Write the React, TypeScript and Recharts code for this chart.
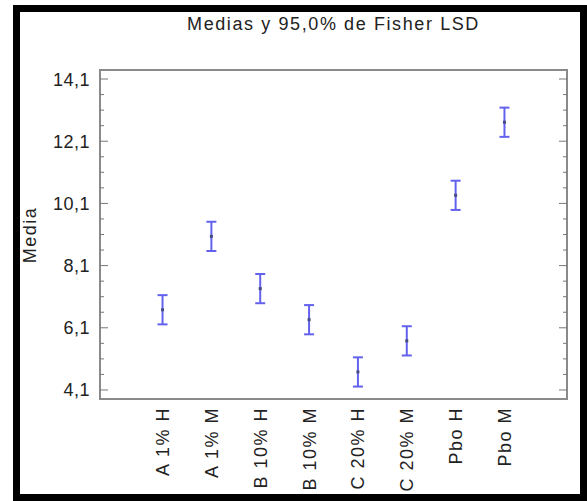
import { ComposedChart, Scatter, ErrorBar, XAxis, YAxis, ReferenceArea } from "recharts";

const categories = ["A 1% H", "A 1% M", "B 10% H", "B 10% M", "C 20% H", "C 20% M", "Pbo H", "Pbo M"];
const means = [6.68, 9.04, 7.36, 6.36, 4.68, 5.68, 10.36, 12.71];
const lsdHalf = [0.47, 0.47, 0.47, 0.47, 0.47, 0.47, 0.47, 0.47];

const yTicks = [
  4.1, 4.6, 5.1, 5.6, 6.1, 6.6, 7.1, 7.6, 8.1, 8.6, 9.1, 9.6, 10.1, 10.6, 11.1, 11.6, 12.1, 12.6, 13.1, 13.6, 14.1,
];
const yMajor = [4.1, 6.1, 8.1, 10.1, 12.1, 14.1];
const xTicks = [0, 1, 2, 3, 4, 5, 6, 7];

const yDomain = [3.81, 14.39];
const xDomain = [-1.28, 8.28];

const font = '"Liberation Sans", Arial, sans-serif';
const textColor = "#222";

const rows = categories.map((name, i) => ({ idx: i, name, mean: means[i], err: lsdHalf[i] }));

const isMajor = (v: number) => yMajor.some((m) => Math.abs(m - v) < 1e-6);

function LeftTick(props: any) {
  const { x, y, payload } = props;
  const major = isMajor(payload.value);
  return (
    <g>
      <line x1={x} y1={y} x2={x + (major ? 8 : 4)} y2={y} stroke="#777" strokeWidth={1} />
      {major && (
        <text x={x - 10} y={y + 6.5} textAnchor="end" fontSize={18} letterSpacing={0.5} fontFamily={font} fill={textColor}>
          {String(payload.value).replace(".", ",")}
        </text>
      )}
    </g>
  );
}

function RightTick(props: any) {
  const { x, y, payload } = props;
  const major = isMajor(payload.value);
  return <line x1={x} y1={y} x2={x - (major ? 8 : 4)} y2={y} stroke="#777" strokeWidth={1} />;
}

function BottomTick(props: any) {
  const { x, y, payload } = props;
  return (
    <text
      transform={`translate(${x + 6.5},${y + 8}) rotate(-90)`}
      textAnchor="end"
      fontSize={18}
      letterSpacing={1.5}
      fontFamily={font}
      fill={textColor}
    >
      {categories[payload.value]}
    </text>
  );
}

function MeanDot(props: any) {
  const { cx, cy } = props;
  return <rect x={cx - 1.5} y={cy - 1.5} width={3} height={3} fill="#4a4a80" />;
}

export default function App() {
  return (
    <div style={{ position: "absolute", left: 0, top: 0, width: 587, height: 501, background: "#fff", overflow: "hidden" }}>
      <div
        style={{
          position: "absolute",
          left: 13,
          top: 5,
          width: 574,
          height: 496,
          border: "7px solid #000",
          boxSizing: "border-box",
        }}
      />
      <div style={{ position: "absolute", left: 0, top: 0 }}>
        <ComposedChart width={587} height={501} data={rows} margin={{ top: 70, right: 19, bottom: 0, left: 0 }}>
          <XAxis
            dataKey="idx"
            type="number"
            domain={xDomain}
            ticks={xTicks}
            interval={0}
            allowDataOverflow
            axisLine={false}
            tickLine={false}
            tickSize={0}
            tickMargin={0}
            height={102}
            tick={<BottomTick />}
          />
          <YAxis
            yAxisId="left"
            type="number"
            domain={yDomain}
            ticks={yTicks}
            interval={0}
            allowDataOverflow
            axisLine={false}
            tickLine={false}
            tickSize={0}
            tickMargin={0}
            width={100}
            tick={<LeftTick />}
          />
          <YAxis
            yAxisId="right"
            orientation="right"
            type="number"
            domain={yDomain}
            ticks={yTicks}
            interval={0}
            allowDataOverflow
            axisLine={false}
            tickLine={false}
            tickSize={0}
            tickMargin={0}
            width={1}
            tick={<RightTick />}
          />
          <ReferenceArea
            yAxisId="left"
            x1={xDomain[0]}
            x2={xDomain[1]}
            y1={yDomain[0]}
            y2={yDomain[1]}
            fill="none"
            stroke="#8a8a8a"
            strokeWidth={2}
            ifOverflow="visible"
          />
          <Scatter yAxisId="left" dataKey="mean" isAnimationActive={false} shape={<MeanDot />}>
            <ErrorBar dataKey="err" direction="y" width={5} stroke="#6262ee" strokeWidth={2} isAnimationActive={false} />
          </Scatter>
        </ComposedChart>
      </div>
      <svg width={587} height={501} style={{ position: "absolute", left: 0, top: 0, pointerEvents: "none" }}>
        <text x={333.5} y={30} textAnchor="middle" fontSize={18} letterSpacing={1.6} fontFamily={font} fill={textColor}>
          Medias y 95,0% de Fisher LSD
        </text>
        <text
          transform="translate(36,235) rotate(-90)"
          textAnchor="middle"
          fontSize={18}
          letterSpacing={1.5}
          fontFamily={font}
          fill={textColor}
        >
          Media
        </text>
      </svg>
    </div>
  );
}
